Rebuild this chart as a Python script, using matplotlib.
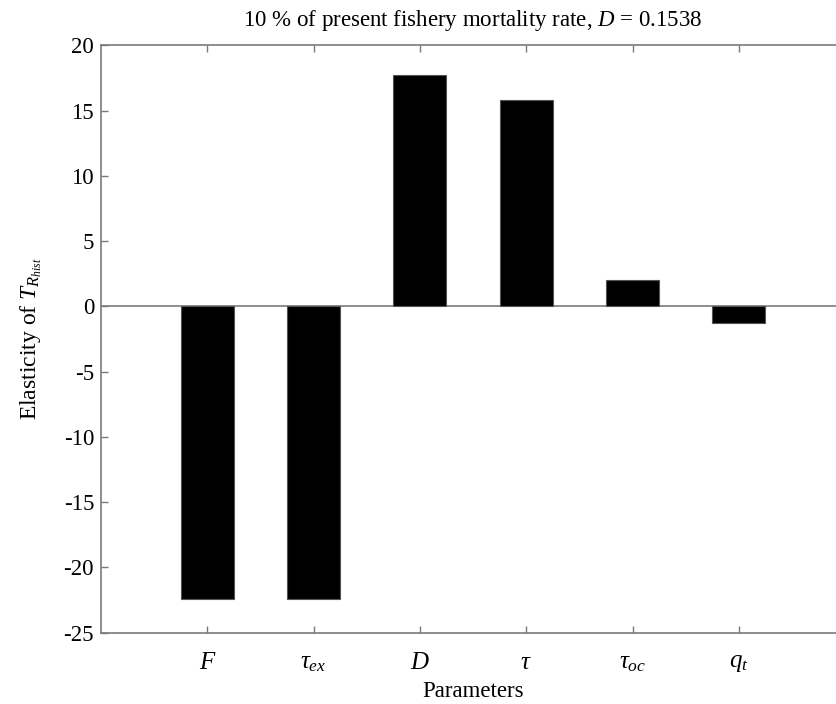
import matplotlib
matplotlib.use("Agg")
import matplotlib.pyplot as plt

# elasticity values
params = [r"$F$", r"$\tau_{ex}$", r"$D$", r"$\tau$", r"$\tau_{oc}$", r"$q_t$"]
elasticity = [-22.45, -22.45, 17.7, 15.77, 2.0, -1.28]
yticks = [20, 15, 10, 5, 0, -5, -10, -15, -20, -25]

plt.rcParams['font.family'] = ['Liberation Serif', 'DejaVu Serif']
plt.rcParams['mathtext.fontset'] = 'custom'
plt.rcParams['mathtext.rm'] = 'Liberation Serif'
plt.rcParams['mathtext.it'] = 'Liberation Serif:italic'

axis_col = '#7a7a7a'

fig = plt.figure(figsize=(8.37, 7.04), dpi=100)
# axes run slightly past the right edge, as in the cropped original
ax = fig.add_axes([0.1207, 0.1013, 0.889, 0.8344])

x = list(range(1, len(params) + 1))
ax.bar(x, elasticity, width=0.5, color='black', edgecolor='#555555', linewidth=0.8, zorder=2)
ax.axhline(0, color=axis_col, linewidth=1.2, zorder=1)

ax.set_xlim(0, 7)
ax.set_ylim(-25, 20)
ax.set_xticks(x)
ax.set_xticklabels(params, fontsize=18)
ax.set_yticks(yticks)
ax.set_yticklabels([str(v) for v in yticks], fontsize=16.5)

ax.tick_params(direction='in', length=5, width=1, color=axis_col, top=True, right=False)
ax.tick_params(axis='x', pad=14)
ax.tick_params(axis='y', pad=5)
for side, sp in ax.spines.items():
    sp.set_color(axis_col)
    sp.set_linewidth(1.2)
ax.spines['right'].set_visible(False)

ax.set_title(r"10 % of present fishery mortality rate, $D$ = 0.1538", fontsize=16.5, pad=14)
ax.set_xlabel("Parameters", fontsize=16.5, labelpad=5)
ax.set_ylabel(r"Elasticity of $T_{R_{hist}}$", fontsize=17, labelpad=14)

fig.savefig("out.png", dpi=100)
